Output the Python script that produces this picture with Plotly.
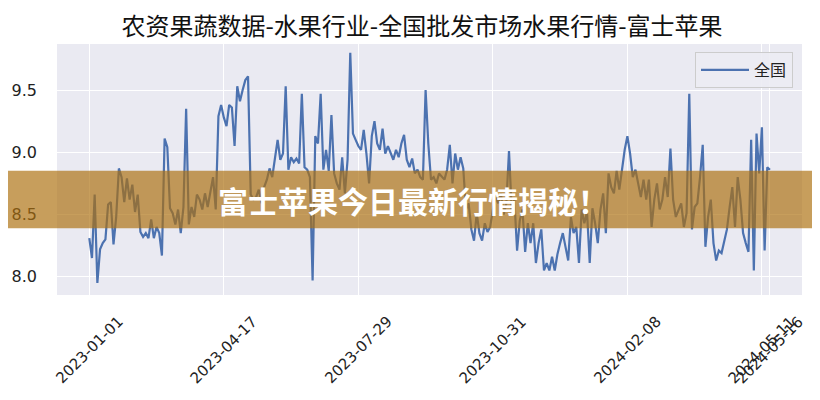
import plotly.graph_objects as go

title_text = "农资果蔬数据-水果行业-全国批发市场水果行情-富士苹果"
banner_text = "富士苹果今日最新行情揭秘！"
series_name = "全国"

# price values, one reading every second observation (observation index 0, 2, 4, ...)
price = [
    8.31, 8.15, 8.66, 7.95, 8.22, 8.27, 8.30, 8.58, 8.60, 8.26,
    8.48, 8.87, 8.80, 8.60, 8.79, 8.62, 8.74, 8.52, 8.66, 8.36,
    8.32, 8.35, 8.31, 8.46, 8.31, 8.40, 8.35, 8.17, 9.11, 9.04,
    8.55, 8.51, 8.42, 8.54, 8.35, 8.56, 9.35, 8.42, 8.56, 8.48,
    8.66, 8.62, 8.54, 8.67, 8.56, 8.67, 8.80, 8.54, 9.29, 9.38,
    9.28, 9.21, 9.38, 9.36, 9.05, 9.53, 9.41, 9.50, 9.58, 9.61,
    8.66, 8.62, 8.64, 8.70, 8.59, 8.72, 8.78, 8.87, 8.80, 8.95,
    9.10, 8.94, 8.99, 9.53, 8.86, 8.96, 8.92, 8.95, 8.91, 9.47,
    8.88, 8.86, 8.80, 7.97, 9.13, 9.07, 9.47, 8.86, 9.02, 8.85,
    9.30, 8.83, 8.75, 8.70, 8.96, 8.67, 8.94, 9.80, 9.15, 9.10,
    9.05, 9.02, 9.18, 8.99, 8.75, 9.13, 9.25, 9.07, 9.02, 9.19,
    8.99, 9.05, 9.00, 8.94, 9.02, 8.96, 9.07, 9.14, 8.94, 8.88,
    8.95, 8.83, 8.86, 8.80, 8.78, 9.50, 9.07, 8.78, 8.80, 8.75,
    8.83, 8.80, 8.78, 8.86, 9.06, 8.75, 8.99, 8.86, 8.96, 8.87,
    8.54, 8.59, 8.38, 8.29, 8.51, 8.35, 8.29, 8.43, 8.36, 8.40,
    8.54, 8.64, 8.59, 8.67, 8.50, 8.59, 9.01, 8.54, 8.62, 8.21,
    8.45, 8.54, 8.20, 8.43, 8.27, 8.43, 8.11, 8.27, 8.38, 8.05,
    8.11, 8.05, 8.16, 8.05, 8.18, 8.27, 8.35, 8.24, 8.13, 8.48,
    8.35, 8.40, 8.11, 8.54, 8.43, 8.52, 8.11, 8.55, 8.43, 8.27,
    8.54, 8.67, 8.35, 8.83, 8.72, 8.67, 8.85, 8.70, 8.88, 9.02,
    9.13, 8.99, 8.80, 8.86, 8.75, 8.64, 8.78, 8.62, 8.78, 8.40,
    8.62, 8.75, 8.54, 8.62, 8.80, 8.64, 9.03, 8.62, 8.48, 8.54,
    8.59, 8.40, 8.51, 9.47, 8.38, 8.56, 8.59, 8.80, 9.06, 8.24,
    8.48, 8.62, 8.27, 8.13, 8.21, 8.19, 8.29, 8.38, 8.56, 8.72,
    8.40, 8.80, 8.62, 8.35, 8.27, 8.20, 9.10, 8.05, 9.15, 8.83,
    9.20, 8.21, 8.88, 8.86,
]
obs_index = list(range(0, 2 * len(price), 2))

tick_labels = ["2023-01-01", "2023-04-17", "2023-07-29", "2023-10-31",
               "2024-02-08", "2024-05-11", "2024-05-16"]
tick_index = [0, 100, 200, 300, 400, 500, obs_index[-1]]

y_ticks = [8.0, 8.5, 9.0, 9.5]

fig = go.Figure()
fig.add_trace(go.Scatter(
    x=obs_index, y=price, mode="lines", name=series_name,
    line=dict(color="#4C72B0", width=2.2),
))

# page body has an 8px margin, so the figure is laid out 8px up/left
OFF = 8
W, H = 820 - OFF, 400 - OFF
L, R, T, B = 57 - OFF, 18, 44 - OFF, 105
pw, ph = W - L - R, H - T - B
bottom_px = H - B  # plot bottom in figure px

def py(y_ref):
    """reference-image pixel row -> paper y"""
    return (bottom_px - (y_ref - OFF)) / ph

def px(x_ref):
    return (x_ref - OFF - L) / pw

fig.update_layout(
    width=W, height=H,
    margin=dict(l=L, r=R, t=T, b=B, pad=0, autoexpand=False),
    paper_bgcolor="white",
    plot_bgcolor="#EAEAF2",
    font=dict(family="DejaVu Sans, Noto Sans CJK SC", color="#222222"),
    title=dict(text=title_text, x=(422 - OFF) / W, xref="container", xanchor="center",
               y=1 - (27 - OFF) / H, yref="container", yanchor="middle",
               font=dict(family="Noto Sans CJK SC", size=24, color="#111111")),
    showlegend=True,
    legend=dict(x=px(793), y=py(52), xanchor="right", yanchor="top",
                bgcolor="rgba(236,236,243,0.9)", bordercolor="#CCCCCC", borderwidth=1,
                itemwidth=48,
                font=dict(family="Noto Sans CJK SC", size=16, color="#222222")),
    xaxis=dict(range=[-24.0, 529.8], tickvals=tick_index, showticklabels=False,
               showgrid=True, gridcolor="white", gridwidth=1.3, zeroline=False,
               showline=False, ticks="", automargin=False),
    yaxis=dict(range=[7.853, 9.870], tickvals=y_ticks, ticktext=[f"{v:.1f}" for v in y_ticks],
               showgrid=True, gridcolor="white", gridwidth=1.3, zeroline=False,
               showline=False, ticks="", ticklabelstandoff=19, automargin=False,
               tickfont=dict(family="DejaVu Sans", size=16, color="#222222")),
)

# rotated x tick labels, centred under their ticks
for xi, lab in zip(tick_index, tick_labels):
    fig.add_annotation(x=xi, xref="x", y=py(310), yref="paper",
                       text=lab, textangle=-45, showarrow=False,
                       xanchor="center", yanchor="top",
                       font=dict(family="DejaVu Sans", size=15, color="#222222"))

# banner overlay
fig.add_shape(type="rect", xref="paper", yref="paper",
              x0=-L / pw - 0.02, x1=1 + R / pw + 0.02,
              y0=py(228.3), y1=py(170.7),
              fillcolor="rgba(172,112,15,0.68)", line=dict(width=0), layer="above")
fig.add_annotation(x=px(413), xref="paper", y=py(200), yref="paper",
                   text="<b>" + banner_text + "</b>", showarrow=False,
                   xanchor="center", yanchor="middle",
                   font=dict(family="Noto Sans CJK SC", size=30, color="white"))

fig.write_html("out.html")
